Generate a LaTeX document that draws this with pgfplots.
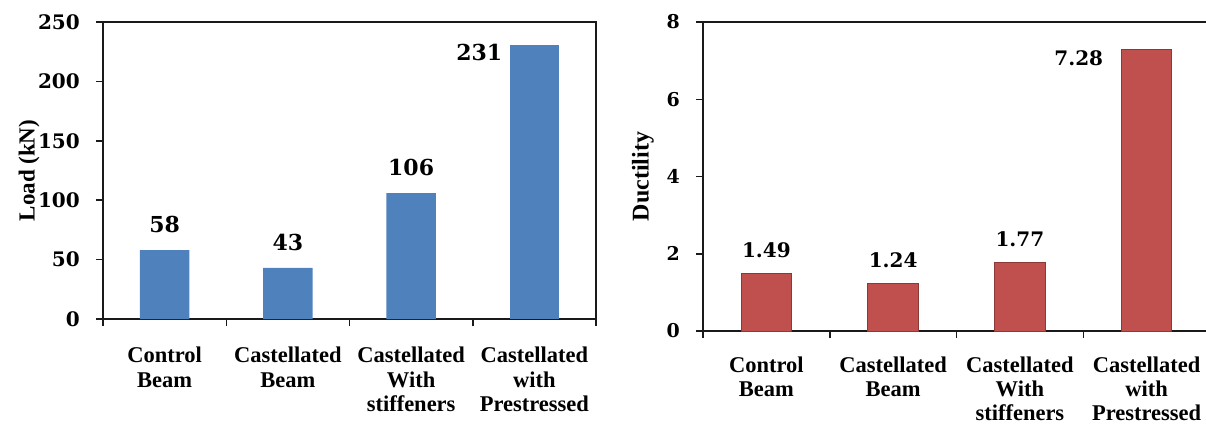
\documentclass[border=0pt]{standalone}
\usepackage{pgfplots}
\pgfplotsset{compat=1.18}
\usepackage{fontspec}
\setmainfont{Liberation Serif}
\newfontfamily\numfont{DejaVu Serif}
\definecolor{barblue}{HTML}{4F81BD}
\definecolor{barred}{HTML}{C0504D}
\definecolor{barrededge}{HTML}{8C3836}
\definecolor{axisgray}{HTML}{1A1A1A}
\pgfplotsset{
  mybar/.style={
    scale only axis,
    clip=false,
    axis line style={draw=axisgray, line width=1.5pt},
    xmin=-0.5, xmax=3.5, ymin=0,
    tick align=outside,
    tick pos=left,
    xtick={-0.5,0.5,1.5,2.5,3.5},
    xticklabels={},
    major tick length=7pt,
    tick style={draw=axisgray, line width=1.5pt},
    extra x ticks={0,1,2,3},
    extra x tick labels={{Control\\Beam},{Castellated\\Beam},{Castellated\\With\\stiffeners},{Castellated\\with\\Prestressed}},
    /pgf/number format/assume math mode=true,
    yticklabel style={anchor=east, inner sep=0pt, xshift=-16pt},
  },
}
\begin{document}
\begin{tikzpicture}
\useasboundingbox (0,0) rectangle (1206pt,426pt);
% Left: Load
\begin{axis}[mybar,
  at={(103pt,107pt)}, anchor=south west,
  width=493pt, height=297pt,
  ymax=250, ytick={0,50,100,150,200,250},
  extra x tick style={major tick length=0pt,
      tick label style={anchor=north, align=center, inner sep=0pt, yshift=-28pt,
        font=\bfseries\fontsize{22.5}{24.5}\selectfont}},
  yticklabel style={font=\numfont\bfseries\fontsize{20}{20}\selectfont},
  every axis y label/.style={at={(axis description cs:0,0.5)}, xshift=-74pt, rotate=90, anchor=center,
    font=\bfseries\fontsize{23}{23}\selectfont},
  ylabel={Load (kN)},
]
\addplot[ybar, bar width=0.4, bar shift=0pt, fill=barblue, draw=none,
  nodes near coords,
  every node near coord/.append style={font=\numfont\bfseries\fontsize{22}{22}\selectfont, anchor=south, inner sep=0pt, yshift=17pt, text=black}]
  coordinates {(0,58) (1,43) (2,106)};
\addplot[ybar, bar width=0.4, bar shift=0pt, fill=barblue, draw=none,
  nodes near coords,
  every node near coord/.append style={font=\numfont\bfseries\fontsize{22}{22}\selectfont, anchor=north east, inner sep=0pt, xshift=-32pt, yshift=1pt, text=black}]
  coordinates {(3,231)};
\end{axis}
% Right: Ductility
\begin{axis}[mybar,
  at={(703pt,95pt)}, anchor=south west,
  width=507pt, height=309pt,
  ymax=8, ytick={0,2,4,6,8},
  extra x tick style={major tick length=0pt,
      tick label style={anchor=north, align=center, inner sep=0pt, yshift=-26pt,
        font=\bfseries\fontsize{22.5}{24}\selectfont}},
  yticklabel style={font=\numfont\bfseries\fontsize{19}{19}\selectfont},
  every axis y label/.style={at={(axis description cs:0,0.5)}, xshift=-60pt, rotate=90, anchor=center,
    font=\bfseries\fontsize{24}{24}\selectfont},
  ylabel={Ductility},
]
\addplot[ybar, bar width=0.4, bar shift=0pt, fill=barred, draw=barrededge, line width=1pt,
  nodes near coords,
  every node near coord/.append style={font=\numfont\bfseries\fontsize{20}{20}\selectfont, anchor=south, inner sep=0pt, yshift=15pt, text=black}]
  coordinates {(0,1.49) (1,1.24) (2,1.77)};
\addplot[ybar, bar width=0.4, bar shift=0pt, fill=barred, draw=barrededge, line width=1pt,
  nodes near coords,
  every node near coord/.append style={font=\numfont\bfseries\fontsize{20}{20}\selectfont, anchor=north east, inner sep=0pt, xshift=-43pt, yshift=0pt, text=black}]
  coordinates {(3,7.28)};
\end{axis}
\end{tikzpicture}
\end{document}
